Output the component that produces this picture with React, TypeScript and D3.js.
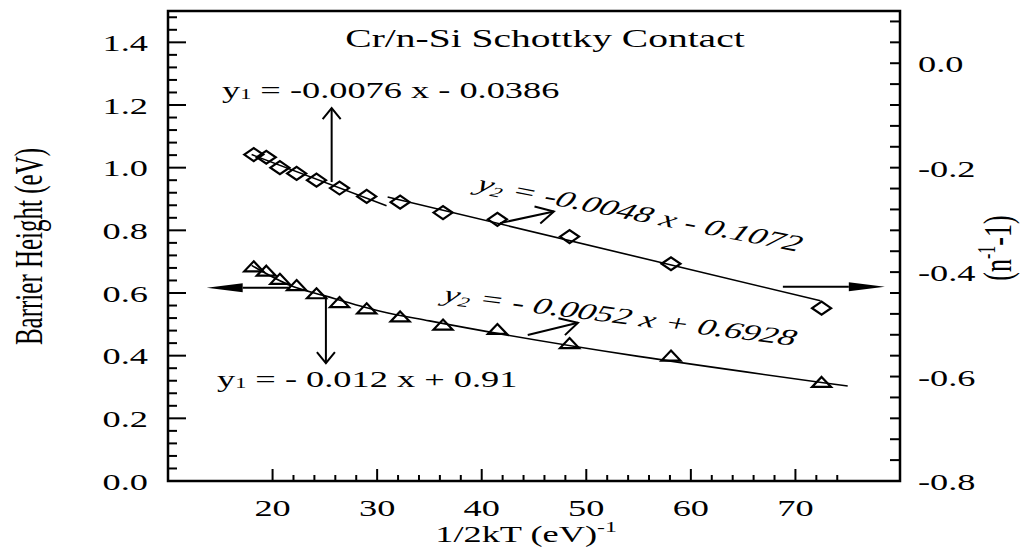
import React from 'react';
import * as d3 from 'd3';

// ---- data ----
const invTwoKT = [18.2, 19.4, 20.7, 22.3, 24.2, 26.4, 29.0, 32.2, 36.3, 41.5, 48.4, 58.1, 72.5];
// (n^-1 - 1), right axis, diamonds
const idealityTerm = [-0.175, -0.18, -0.2, -0.211, -0.224, -0.239, -0.255, -0.266, -0.286, -0.299, -0.332, -0.384, -0.469];
// Barrier height (eV), left axis, triangles
const barrierHeight = [0.682, 0.668, 0.642, 0.622, 0.596, 0.568, 0.548, 0.522, 0.496, 0.482, 0.437, 0.397, 0.313];

// fitted lines, points [x, y]
const fitIdealityLow: [number, number][] = [[18.0, -0.175], [30.9, -0.273]];
const fitIdealityHigh: [number, number][] = [[31.0, -0.256], [72.4, -0.455]];
const fitBarrier: [number, number][] = [[18.0, 0.688], [21.7, 0.624], [25.1, 0.59], [30.3, 0.542], [35.0, 0.511], [75.0, 0.303]];

const xDomain = [10, 80];
const yLeftDomain = [0, 1.5];
const yRightDomain = [-0.8, 0.1];

const xMajorTicks = [20, 30, 40, 50, 60, 70];
const xTickLabels = ['20', '30', '40', '50', '60', '70'];
const xMinorTicks = [22, 24, 26, 28, 32, 34, 36, 38, 42, 44, 46, 48, 52, 54, 56, 58, 62, 64, 66, 68, 72, 74];
const yLeftMajor = [0, 0.2, 0.4, 0.6, 0.8, 1.0, 1.2, 1.4];
const yLeftLabels = ['0.0', '0.2', '0.4', '0.6', '0.8', '1.0', '1.2', '1.4'];
const yRightMajor = [0, -0.2, -0.4, -0.6, -0.8];
const yRightLabels = ['0.0', '-0.2', '-0.4', '-0.6', '-0.8'];

const FONT = "'Liberation Serif', 'Times New Roman', serif";
const S = 1.58; // horizontal stretch of the original figure

export default function App() {
  const x = d3.scaleLinear().domain(xDomain).range([168, 900]);
  const yL = d3.scaleLinear().domain(yLeftDomain).range([481, 11]);
  const yR = d3.scaleLinear().domain(yRightDomain).range([481, 11]);

  const curveL = d3.line<[number, number]>().x(d => x(d[0])).y(d => yL(d[1])).curve(d3.curveMonotoneX);
  const lineR = d3.line<[number, number]>().x(d => x(d[0])).y(d => yR(d[1]));

  const left = x.range()[0], right = x.range()[1];
  const top = yL.range()[1], bottom = yL.range()[0];

  const leftMinor = d3.range(1, 38).map(i => i * 0.04).filter(v => Math.abs(v / 0.2 - Math.round(v / 0.2)) > 1e-6);
  const rightTicks = d3.range(-19, 3).map(i => i * 0.04);

  const txt = (
    key: string, px: number, py: number, content: React.ReactNode,
    opts: { anchor?: string; size?: number; rot?: number; italic?: boolean } = {}
  ) => (
    <text
      key={key}
      transform={`translate(${px},${py}) scale(${S},1)${opts.rot ? ` rotate(${opts.rot})` : ''}`}
      textAnchor={opts.anchor || 'start'}
      fontSize={opts.size || 23}
      fontStyle={opts.italic ? 'italic' : 'normal'}
      fontFamily={FONT}
      fill="#000"
    >
      {content}
    </text>
  );

  const openHead = (tx: number, ty: number, fx: number, fy: number, len = 11, half = 9) => {
    const dx = (tx - fx) / S, dy = ty - fy;
    const L = Math.hypot(dx, dy);
    const ux = dx / L, uy = dy / L;
    const bx = -ux * len, by = -uy * len;
    const nx = -uy * (half / S), ny = ux * (half / S);
    const p1 = [tx + (bx + nx) * S, ty + by + ny * S];
    const p2 = [tx + (bx - nx) * S, ty + by - ny * S];
    return `M${p1[0]},${p1[1]}L${tx},${ty}L${p2[0]},${p2[1]}`;
  };

  // annotation arrows in data coordinates (x, left-axis y)
  const upArrow = { x0: 25.65, y0: 0.954, x1: 25.65, y1: 1.19 };
  const downArrow = { x0: 25.1, y0: 0.588, x1: 25.1, y1: 0.376 };
  const leftArrow = { x0: 21.7, y0: 0.617, x1: 13.7, y1: 0.617 };
  const rightArrow = { x0: 68.8, y0: 0.62, x1: 78.55, y1: 0.62 };
  const smallUp = { x0: 41.74, y0: 0.823, x1: 46.9, y1: 0.86 };
  const smallLow = { x0: 44.4, y0: 0.466, x1: 49.2, y1: 0.505 };

  const arrowLine = (a: any, k: string, head: 'open' | 'filled') => {
    const fx = x(a.x0), fy = yL(a.y0), tx = x(a.x1), ty = yL(a.y1);
    if (head === 'open') {
      return (
        <g key={k}>
          <line x1={fx} y1={fy} x2={tx} y2={ty} stroke="#000" strokeWidth={2} />
          <path d={openHead(tx, ty, fx, fy, 11, 9)} fill="none" stroke="#000" strokeWidth={2} />
        </g>
      );
    }
    const dir = Math.sign(tx - fx);
    const hl = 36, hh = 4.5;
    return (
      <g key={k}>
        <line x1={fx} y1={fy} x2={tx - dir * hl} y2={ty} stroke="#000" strokeWidth={2} />
        <path d={`M${tx},${ty}L${tx - dir * hl},${ty - hh}L${tx - dir * hl},${ty + hh}Z`} fill="#000" />
      </g>
    );
  };

  const diamond = (cx: number, cy: number) => `M${cx - 9.5},${cy}L${cx},${cy - 6.5}L${cx + 9.5},${cy}L${cx},${cy + 6.5}Z`;
  const triangle = (cx: number, cy: number) => `M${cx},${cy - 6}L${cx + 9.5},${cy + 4}L${cx - 9.5},${cy + 4}Z`;

  return (
    <svg width={1024} height={552} style={{ position: 'absolute', left: 0, top: 0, background: '#fff' }}>
      <rect width={1024} height={552} fill="#fff" />
      {/* frame */}
      <rect x={left} y={top} width={right - left} height={bottom - top} fill="none" stroke="#000" strokeWidth={2.5} />

      {/* left ticks */}
      {yLeftMajor.map((v, i) => (
        <g key={`lm${i}`}>
          <line x1={left} x2={left + 18} y1={yL(v)} y2={yL(v)} stroke="#000" strokeWidth={2} />
          {txt(`ll${i}`, 148, yL(v) + 8.5, yLeftLabels[i], { anchor: 'end' })}
        </g>
      ))}
      {leftMinor.map((v, i) => (
        <line key={`lmi${i}`} x1={left} x2={left + 9} y1={yL(v)} y2={yL(v)} stroke="#000" strokeWidth={2} />
      ))}

      {/* right ticks */}
      {rightTicks.map((v, i) => (
        <line key={`rt${i}`} x1={right - 10} x2={right} y1={yR(v)} y2={yR(v)} stroke="#000" strokeWidth={2} />
      ))}
      {yRightMajor.map((v, i) => txt(`rl${i}`, 918, yR(v) + 9, yRightLabels[i]))}

      {/* bottom ticks */}
      {xMajorTicks.map((v, i) => (
        <g key={`xm${i}`}>
          <line x1={x(v)} x2={x(v)} y1={bottom} y2={bottom - 12} stroke="#000" strokeWidth={2} />
          {txt(`xl${i}`, x(v), 516, xTickLabels[i], { anchor: 'middle' })}
        </g>
      ))}
      {xMinorTicks.map((v, i) => (
        <line key={`xmi${i}`} x1={x(v)} x2={x(v)} y1={bottom} y2={bottom - 6} stroke="#000" strokeWidth={2} />
      ))}

      {/* axis titles */}
      {txt('xt', 526, 542, <>1/2kT (eV)<tspan fontSize={15} dy={-10}>-1</tspan></>, { anchor: 'middle' })}
      {txt('ylt', 42, 246.5, 'Barrier Height (eV)', { anchor: 'middle', rot: -90, size: 25 })}
      {txt('yrt', 1011, 248, <>(n<tspan fontSize={16} dy={-10}>-1</tspan><tspan dy={10}>-1)</tspan></>, { anchor: 'middle', rot: -90, size: 26 })}

      {/* title */}
      {txt('title', 545, 46.5, 'Cr/n-Si Schottky Contact', { anchor: 'middle', size: 25 })}

      {/* fits */}
      <path d={lineR(fitIdealityLow) || ''} fill="none" stroke="#000" strokeWidth={1.6} />
      <path d={lineR(fitIdealityHigh) || ''} fill="none" stroke="#000" strokeWidth={1.6} />
      <path d={curveL(fitBarrier) || ''} fill="none" stroke="#000" strokeWidth={1.6} />

      {/* markers */}
      {invTwoKT.map((v, i) => (
        <path key={`d${i}`} d={diamond(x(v), yR(idealityTerm[i]))} fill="none" stroke="#000" strokeWidth={2.2} />
      ))}
      {invTwoKT.map((v, i) => (
        <path key={`t${i}`} d={triangle(x(v), yL(barrierHeight[i]))} fill="none" stroke="#000" strokeWidth={2.2} />
      ))}

      {/* arrows */}
      {arrowLine(upArrow, 'a1', 'open')}
      {arrowLine(downArrow, 'a2', 'open')}
      {arrowLine(leftArrow, 'a3', 'filled')}
      {arrowLine(rightArrow, 'a4', 'filled')}
      {arrowLine(smallUp, 'a5', 'open')}
      {arrowLine(smallLow, 'a6', 'open')}

      {/* equations */}
      {txt('eq1', 222, 98, <>y<tspan fontSize={14} dy={1}>1</tspan><tspan dy={-1}> = -0.0076 x - 0.0386</tspan></>)}
      {txt('eq2', 217, 387, <>y<tspan fontSize={14} dy={1}>1</tspan><tspan dy={-1}> = - 0.012 x + 0.91</tspan></>)}
      {txt('eq3', 475, 190, <>y<tspan fontSize={14} dy={3}>2</tspan><tspan dy={-3}> = -0.0048 x - 0.1072</tspan></>, { italic: true, rot: 16.8 })}
      {txt('eq4', 442, 301, <>y<tspan fontSize={14} dy={3}>2</tspan><tspan dy={-3}> = - 0.0052 x + 0.6928</tspan></>, { italic: true, rot: 11.4 })}
    </svg>
  );
}
